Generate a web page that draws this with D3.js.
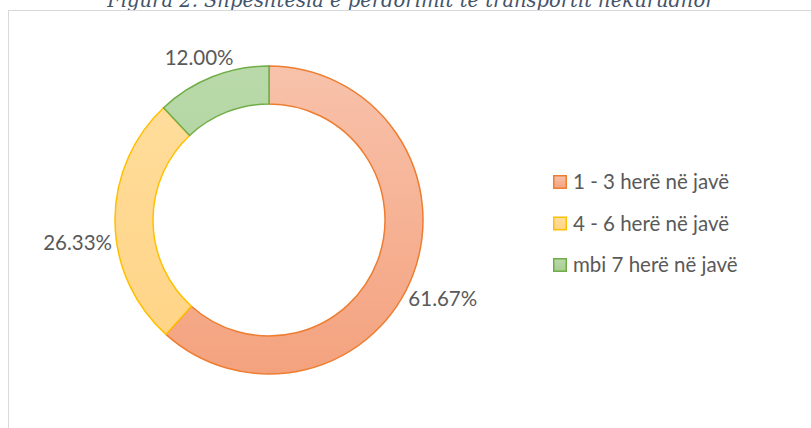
<!DOCTYPE html>
<html>
<head>
<meta charset="utf-8">
<script src="https://cdn.jsdelivr.net/npm/d3@7"></script>
<style>
  body { margin: 0; background: #fff; }
  svg { display: block; }
</style>
</head>
<body>
<svg id="drawing_region"></svg>
<script>
// data
const categories = ['1 - 3 herë në javë', '4 - 6 herë në javë', 'mbi 7 herë në javë'];
const values = [61.67, 26.33, 12.00];
const strokeColors = ['#ED7D31', '#FFC000', '#70AD47'];
const fillTop = ['#F8C2AB', '#FFDE9E', '#B9D9AA'];
const fillBottom = ['#F4A27E', '#FFD384', '#A8CD92'];
const title = 'Figura 2. Shpeshtësia e përdorimit të transportit hekurudhor';

const data = categories.map((c, i) => ({ label: c, value: values[i], i: i }));

const config = {
    width: 811,
    height: 428,
    cx: 269,
    cy: 220,
    outer: 154,
    inner: 116,
    labelR: 160
};

const svg = d3.select('#drawing_region')
    .attr('width', config.width)
    .attr('height', config.height);

// gradients
const defs = svg.append('defs');
data.forEach(d => {
    const g = defs.append('linearGradient')
        .attr('id', 'grad' + d.i)
        .attr('x1', 0).attr('y1', 0).attr('x2', 0).attr('y2', 1);
    g.append('stop').attr('offset', '0%').attr('stop-color', fillTop[d.i]);
    g.append('stop').attr('offset', '100%').attr('stop-color', fillBottom[d.i]);
    const gu = defs.append('linearGradient')
        .attr('id', 'gradU' + d.i)
        .attr('gradientUnits', 'userSpaceOnUse')
        .attr('x1', 0).attr('y1', -config.outer).attr('x2', 0).attr('y2', config.outer);
    gu.append('stop').attr('offset', '0%').attr('stop-color', fillTop[d.i]);
    gu.append('stop').attr('offset', '100%').attr('stop-color', fillBottom[d.i]);
});

// title (cut off at the top, as in the source)
svg.append('text')
    .attr('x', 411)
    .attr('y', 7)
    .attr('text-anchor', 'middle')
    .style('font-family', '"DejaVu Serif", serif')
    .style('font-style', 'italic')
    .style('font-size', '19.5px')
    .style('fill', '#44546A')
    .text(title);

// chart border
svg.append('rect')
    .attr('x', 8.5)
    .attr('y', 10.5)
    .attr('width', 820)
    .attr('height', 440)
    .attr('fill', 'none')
    .attr('stroke', '#D9D9D9')
    .attr('stroke-width', 1);

const pie = d3.pie().sort(null).value(d => d.value);
const arc = d3.arc().innerRadius(config.inner).outerRadius(config.outer);
const arcs = pie(data);

const chart = svg.append('g')
    .attr('transform', `translate(${config.cx}, ${config.cy})`);

chart.selectAll('path')
    .data(arcs)
    .enter()
    .append('path')
    .attr('d', arc)
    .attr('fill', d => `url(#gradU${d.data.i})`)
    .attr('stroke', d => strokeColors[d.data.i])
    .attr('stroke-width', 1.5);

// data labels, placed outside along the mid angle
const fmt = d3.format('.2f');
chart.selectAll('.lbl')
    .data(arcs)
    .enter()
    .append('text')
    .attr('class', 'lbl')
    .style('font-family', 'Lato, sans-serif')
    .style('font-size', '20.5px')
    .style('fill', '#595959')
    .text(d => fmt(d.data.value) + '%')
    .each(function(d) {
        const a = (d.startAngle + d.endAngle) / 2;
        const s = Math.sin(a), c = Math.cos(a);
        let x = s * config.labelR;
        let y = -c * config.labelR;
        let anchor = 'middle';
        if (Math.abs(s) > 0.7) {
            // side labels sit a bit lower, flush against the ring
            anchor = s > 0 ? 'start' : 'end';
            x += s > 0 ? -10 : 3;
            y += 21;
        } else {
            y -= c * 8 + 6;
            x += s * 30;
        }
        d3.select(this)
            .attr('x', x)
            .attr('y', y)
            .attr('text-anchor', anchor)
            .attr('dy', '0.35em');
    });

// legend
const legend = svg.append('g')
    .attr('transform', 'translate(553, 182)');

const item = legend.selectAll('g')
    .data(data)
    .enter()
    .append('g')
    .attr('transform', d => `translate(0, ${d.i * 41.5})`);

item.append('rect')
    .attr('x', 0.75)
    .attr('y', -6.25)
    .attr('width', 12.5)
    .attr('height', 12.5)
    .attr('fill', d => `url(#grad${d.i})`)
    .attr('stroke', d => strokeColors[d.i])
    .attr('stroke-width', 1.5);

item.append('text')
    .attr('x', 20)
    .attr('dy', '0.35em')
    .style('font-family', 'Lato, sans-serif')
    .style('font-size', '20.5px')
    .style('fill', '#595959')
    .text(d => d.label);
</script>
</body>
</html>
